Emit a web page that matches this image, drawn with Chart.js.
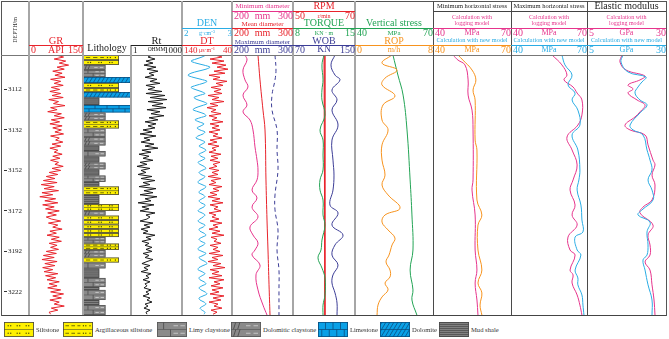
<!DOCTYPE html>
<html>
<head>
<meta charset="utf-8">
<script src="https://cdn.jsdelivr.net/npm/chart.js@4.4.1/dist/chart.umd.min.js"></script>
<style>
  html, body { margin: 0; padding: 0; background: #fff; }
  #page { position: relative; width: 669px; height: 339px; overflow: hidden;
          font-family: "Liberation Serif", "DejaVu Serif", serif; }
  #page canvas { position: absolute; }
  .t, .l, .r { position: absolute; white-space: nowrap; line-height: 1; z-index: 3; }
  .t { transform: translate(-50%, -50%); }
  .l { transform: translateY(-50%); }
  .r { transform: translate(-100%, -50%); }
  .ln { position: absolute; z-index: 2; }
  sup { font-size: 0.75em; line-height: 0; vertical-align: 0.45em; }
</style>
</head>
<body>
<div id="page"></div>
<script>
// ---- depth axis ----
const DEPTH_MIN = 3095;
const DEPTH_MAX = 3223.4;
const depthTicks = [3112, 3132, 3152, 3172, 3192, 3212];
const depthTickLabels = ['3112', '3132', '3152', '3172', '3192', '3222'];

// ---- logs sampled every metre from DEPTH_MIN ----
const grApi = [75,96,70,102,84,110,78,98,66,92,72,100,60,88,70,95,62,85,
  58,88,64,95,55,82,68,100,60,78,52,90,70,98,62,85,58,92,
  66,90,72,96,60,84,74,94,64,88,58,80,70,92,66,86,60,82,72,95,64,88,
  56,80,48,72,40,78,34,70,42,82,36,66,30,74,44,80,38,70,46,84,52,76,48,
  62,88,54,80,66,92,58,76,50,84,62,90,56,78,60,
  82,48,76,40,70,36,78,44,72,38,66,42,80,46,74,50,84,56,78,52,
  88,60,96,66,90,58,84,70,98,62,80,56,60];
const rtOhm = [17.2,10,25.8,7.6,19.7,5.8,29.6,8.7,38.7,11.5,22.5,6.7,33.8,13.1,50.8,7.6,25.8,10,
  66.6,7.6,100,13.1,131,10,76.3,17.2,115,8.7,50.8,15,87.3,11.5,38.7,6.7,29.6,10,
  25.8,5.1,17.2,3.4,29.6,5.8,13.1,3.9,22.5,6.7,38.7,4.4,15,2.95,11.5,5.1,19.7,3.4,8.7,2.25,13.1,3.9,
  7.6,2.6,17.2,3.9,25.8,5.1,13.1,2.95,29.6,5.8,19.7,3.4,33.8,6.7,15,2.6,22.5,4.4,11.5,3.4,25.8,7.6,13.1,
  8.7,3.4,19.7,5.8,13.1,3.9,10,5.1,25.8,7.6,15,4.4,11.5,6.7,17.2,
  7.6,17.2,5.1,11.5,6.7,19.7,8.7,4.4,13.1,5.8,10,3.9,15,7.6,11.5,5.1,13.1,6.7,8.7,5.8,
  15,7.6,11.5,5.1,13.1,8.7,17.2,6.7,10,5.8,13.1,7.6,8.7];
const denGcc = [2.48,2.40,2.28,2.18,2.28,2.44,2.56,2.48,2.32,2.18,2.12,2.22,2.38,2.50,2.42,2.28,2.18,2.26,
  2.38,2.46,2.34,2.24,2.30,2.42,2.50,2.40,2.28,2.22,2.32,2.44,2.48,2.36,2.26,2.34,2.44,2.38,
  2.30,2.36,2.46,2.42,2.32,2.28,2.38,2.46,2.40,2.34,2.42,2.48,2.42,2.34,2.38,2.46,2.40,2.32,2.36,2.44,2.48,2.40,
  2.34,2.38,2.46,2.42,2.34,2.32,2.40,2.48,2.44,2.36,2.34,2.42,2.46,2.40,2.34,2.38,2.46,2.44,2.36,2.32,2.40,2.46,2.42,
  2.36,2.32,2.38,2.46,2.42,2.34,2.36,2.44,2.48,2.40,2.34,2.38,2.46,2.42,2.34,
  2.32,2.40,2.48,2.42,2.34,2.38,2.46,2.50,2.42,2.34,2.32,2.40,2.46,2.40,2.34,2.36,2.44,2.48,2.40,2.34,
  2.38,2.46,2.50,2.42,2.34,2.36,2.44,2.48,2.42,2.36,2.40,2.46,2.44];
const dtUsm = [74,60,84,56,80,52,70,48,76,54,86,64,78,50,72,58,82,62,
  76,60,88,66,80,56,84,68,90,72,82,62,86,70,80,58,84,66,
  80,64,86,68,78,60,84,70,88,66,80,72,86,62,82,68,84,64,78,70,86,66,
  80,68,88,62,82,72,86,60,78,66,84,70,88,64,80,58,84,68,76,62,86,72,80,
  66,84,60,78,68,86,64,80,56,82,70,76,62,84,68,
  78,64,86,58,80,68,88,62,78,54,84,66,80,60,86,56,76,64,82,58,
  80,66,84,56,78,62,86,68,76,60,82,70,78];

// ---- lithology intervals ----
const lithTop  = [3095.0,3097.5,3099.9,3102.4,3105.9,3108.8,3111.3,3113.3,3116.0,3119.7,3123.4,3127.3,3131.3,3135.5,
  3139.7,3142.4,3145.1,3148.1,3151.5,3154.5,3157.7,3159.9,3164.1,3168.6,3172.0,3174.3,3176.5,3178.7,3180.9,3182.9,
  3184.9,3188.1,3191.3,3195.0,3197.5,3200.4,3205.1,3209.6,3211.0,3216.0,3218.5];
const lithBase = [3097.5,3099.9,3102.4,3105.9,3108.8,3111.3,3113.3,3116.0,3119.7,3123.4,3127.3,3131.3,3135.5,3139.7,
  3142.4,3145.1,3148.1,3151.5,3154.5,3157.7,3159.9,3164.1,3168.6,3172.0,3174.3,3176.5,3178.7,3180.9,3182.9,3184.9,
  3188.1,3191.3,3195.0,3197.5,3200.4,3205.1,3209.6,3211.0,3216.0,3218.5,3223.4];
const lithType = ['argSilt','silt','dolClay','limyClay','dolomite','silt','argSilt','dolomite','mud','limestone',
  'dolClay','argSilt','limyClay','dolClay','mud','limyClay','mud','dolClay','mud','limyClay','mud','argSilt','mud',
  'silt','dolClay','silt','silt','silt','silt','silt','limyClay','argSilt','dolClay','argSilt','limyClay','mud',
  'limyClay','mud','limyClay','mud','limyClay'];

// ---- drilling curves ----
const minDiaDepth = [3095.0,3097.5,3102.4,3107.3,3110.8,3114.8,3119.7,3123.1,3127.1,3132.0,3140.4,3146.9,3151.8,3156.7,
  3161.7,3165.6,3170.1,3175.0,3179.9,3183.9,3187.8,3191.3,3193.8,3198.7,3203.6,3211.0,3218.5,3223.4];
const minDiaMm = [221.3,224.6,218.0,221.3,226.2,218.0,224.6,218.0,229.5,234.4,237.7,241.0,242.6,241.0,
  232.8,241.0,232.8,242.6,229.5,234.4,242.6,237.7,232.8,245.9,239.3,242.6,250.8,257.4];
const meanDiaDepth = [3095.0,3107.3,3122.2,3132.0,3156.7,3176.5,3191.3,3208.5,3223.4];
const meanDiaMm = [242.6,245.9,250.8,254.1,255.7,257.4,259.0,260.7,262.3];
const maxDiaDepth = [3095.0,3102.4,3107.3,3114.8,3122.2,3132.0,3141.9,3151.8,3164.1,3171.5,3181.4,3191.3,3201.2,3211.0,3223.4];
const maxDiaMm = [270.5,272.1,270.5,265.6,265.6,273.8,273.8,275.4,270.5,270.5,275.4,273.8,277.0,277.0,277.0];

const rpmDepth = [3095.0, 3223.4];
const rpm = [60.0, 60.3];
const torqueDepth = [3095.0,3099.9,3107.3,3112.3,3117.2,3124.6,3132.0,3137.0,3144.4,3151.8,3156.7,3161.7,3166.6,3174.0,
  3179.0,3186.4,3191.3,3195.2,3200.2,3205.1,3213.5,3218.5,3223.4];
const torque = [11.50,11.27,11.39,11.27,11.27,11.61,11.05,11.39,11.39,11.39,11.05,11.05,11.39,11.39,
  11.61,11.27,11.16,10.82,11.27,11.61,11.61,11.39,11.39];
const wobDepth = [3095.0,3099.9,3104.9,3107.3,3112.3,3117.2,3122.2,3129.6,3137.0,3146.9,3154.3,3161.7,3169.1,3173.0,
  3179.0,3183.9,3188.8,3193.8,3198.7,3203.6,3207.6,3212.5,3217.5,3223.4];
const wob = [124.2,119.0,124.2,130.6,120.3,126.8,120.3,128.1,120.3,121.6,122.9,121.6,117.7,128.1,
  120.3,134.5,124.2,120.3,128.1,121.6,120.3,124.2,126.8,126.8];

const vsDepth = [3095.0,3104.9,3114.8,3132.0,3156.7,3174.0,3191.3,3201.2,3211.0,3216.0,3223.4];
const vsMpa = [54.6,56.5,58.5,60.0,61.2,61.9,62.3,61.2,62.3,61.9,63.8];
const ropDepth = [3095.0,3099.0,3102.4,3106.4,3109.8,3115.2,3119.7,3127.1,3132.0,3139.4,3146.9,3154.3,3159.2,3164.1,
  3170.6,3174.0,3177.5,3181.4,3185.4,3188.8,3193.8,3197.2,3201.2,3204.6,3207.6,3211.0,3214.5,3218.5,3223.4];
const rop = [3.80,2.77,4.31,3.08,2.77,4.10,2.87,2.77,3.39,2.77,2.77,3.08,2.77,3.39,
  4.62,3.08,2.77,3.39,4.10,3.80,3.49,3.18,3.59,3.59,3.08,3.39,2.77,2.36,2.26];

// ---- geomechanics ----
const shLogDepth = [3095.0,3097.5,3099.9,3107.3,3114.8,3122.2,3132.0,3156.7,3161.7,3174.0,3191.3,3201.2,3207.6,3216.0,3223.4];
const shLog = [47.7,49.6,52.3,53.5,53.5,55.0,55.4,55.4,55.0,56.2,56.2,56.9,56.2,56.9,57.3];
const shNewDepth = [3095.0,3097.5,3102.4,3107.3,3112.3,3117.2,3137.0,3141.9,3166.6,3174.0,3179.0,3191.3,3201.2,3207.6,
  3212.5,3218.5,3223.4];
const shNew = [49.6,51.5,55.0,56.5,55.4,56.2,56.2,56.9,56.9,58.8,57.3,57.3,58.8,57.3,58.8,58.1,58.8];

const sHLogDepth = [3095.0,3099.9,3104.9,3107.3,3110.8,3113.8,3117.2,3124.6,3129.6,3135.5,3141.9,3149.3,3156.7,3161.7,
  3169.1,3174.0,3179.0,3184.9,3191.3,3193.8,3201.2,3203.6,3207.6,3213.5,3218.5,3223.4];
const sHLog = [56.2,60.1,62.1,60.9,64.5,66.1,68.0,68.0,66.4,62.1,64.1,66.1,64.5,63.3,
  65.3,64.1,66.1,62.5,63.3,65.3,63.3,64.5,64.1,66.1,67.2,68.0];
const sHNewDepth = [3095.0,3099.9,3104.9,3109.8,3113.8,3117.2,3122.2,3129.6,3134.5,3141.9,3151.8,3156.7,3161.7,3169.1,
  3176.5,3182.4,3184.9,3191.3,3193.8,3201.2,3205.1,3208.5,3213.5,3218.5,3223.4];
const sHNew = [60.1,61.3,64.1,62.5,65.3,64.1,66.4,67.2,64.1,66.4,67.2,66.8,66.1,67.6,
  68.0,68.4,65.3,66.1,67.6,65.3,66.4,66.4,68.0,68.4,68.8];

const eLogDepth = [3095.0,3098.5,3102.4,3105.4,3107.3,3109.8,3111.8,3113.8,3117.2,3119.7,3123.1,3125.6,3129.6,3132.0,
  3134.5,3139.4,3146.9,3149.3,3154.3,3159.2,3166.6,3170.1,3173.0,3179.0,3183.9,3188.8,3193.8,3197.2,3201.2,3208.5,
  3216.0,3223.4];
const eLog = [16.08,15.44,17.34,23.36,21.77,17.98,19.56,17.98,20.83,23.36,21.77,20.19,17.03,18.61,
  23.36,24.31,25.89,26.52,25.57,26.52,25.57,22.72,21.77,25.89,24.31,24.94,24.94,23.36,24.94,25.57,26.21,26.52];
const eNewDepth = [3095.0,3098.5,3103.4,3105.9,3108.3,3110.8,3113.8,3117.2,3119.7,3123.6,3129.6,3132.0,3134.5,3141.9,
  3146.9,3151.8,3156.7,3161.7,3166.6,3171.5,3174.0,3177.5,3182.4,3188.8,3193.8,3196.2,3201.2,3208.5,3216.0,3223.4];
const eNew = [16.39,15.76,17.98,23.67,22.41,21.14,20.19,21.77,23.99,21.77,18.61,19.56,22.72,23.99,
  24.94,25.57,24.31,25.57,25.89,22.41,21.14,24.94,23.99,24.31,23.99,22.72,23.36,24.31,25.57,25.57];

// ---- legend ----
const legendTypes = ['silt','argSilt','limyClay','dolClay','limestone','dolomite','mud'];
const legendNames = ['Siltstone','Argillaceous siltstone','Limy claystone','Dolomitic claystone','Limestone','Dolomite','Mud shale'];

// ---- styles ----
const SERIF = '"Liberation Serif", "DejaVu Serif", serif';
const RED = '#e8232b', MAG = '#e6348c', CYAN = '#2aace4', NAVY = '#3c3d96',
      GREEN = '#23a455', ORANGE = '#f7931e', INK = '#222';
const LITH_STYLE = {
  silt:      { fill: '#fff100', ink: '#4d4d00', row: '#7a7a20', edge: '#444', width: 0.75 },
  argSilt:   { fill: '#fff100', ink: '#4d4d00', row: '#7a7a20', edge: '#444', width: 0.75 },
  limyClay:  { fill: '#8a8a8a', ink: '#d4d4d4', row: '#5e5e5e', edge: '#555', width: 0.47 },
  dolClay:   { fill: '#8a8a8a', ink: '#d4d4d4', row: '#5e5e5e', edge: '#555', width: 0.47 },
  limestone: { fill: '#0aa0e6', ink: '#0b4f80', row: '#0b4f80', edge: '#0b4f80', width: 1 },
  dolomite:  { fill: '#0aa0e6', ink: '#0b4f80', row: '#0b4f80', edge: '#0b4f80', width: 1 },
  mud:       { fill: '#595959', ink: '#8c8c8c', row: '#8c8c8c', edge: '#4a4a4a', width: 0.34 }
};

const PLOT_TOP = 55, PLOT_H = 260;
const page = document.getElementById('page');

function seg(ctx, x1, y1, x2, y2) {
  ctx.beginPath(); ctx.moveTo(x1, y1); ctx.lineTo(x2, y2); ctx.stroke();
}
function dot(ctx, x, y) { ctx.fillRect(x - 0.6, y - 0.6, 1.2, 1.2); }

function paintLith(ctx, type, x, y, w, h, rowCount) {
  const st = LITH_STYLE[type];
  const rows = rowCount || Math.max(1, Math.round(h / 4.2));
  const rh = h / rows;
  ctx.save();
  ctx.beginPath(); ctx.rect(x, y, w, h); ctx.clip();
  ctx.fillStyle = st.fill; ctx.fillRect(x, y, w, h);
  ctx.lineWidth = 0.8;
  if (type === 'mud') {
    ctx.strokeStyle = st.ink;
    for (let yy = y + 1.5; yy < y + h; yy += 2) seg(ctx, x, yy, x + w, yy);
  } else if (type === 'dolomite') {
    ctx.strokeStyle = st.ink;
    for (let r = 1; r < rows; r++) seg(ctx, x, y + r * rh, x + w, y + r * rh);
    for (let xx = x - h; xx < x + w + h; xx += 4) seg(ctx, xx, y + h, xx + h * 0.6, y);
  } else {
    for (let r = 0; r < rows; r++) {
      const t = y + r * rh, m = t + rh / 2, odd = r % 2;
      ctx.strokeStyle = st.row;
      if (r > 0) seg(ctx, x, t, x + w, t);
      ctx.strokeStyle = st.ink; ctx.fillStyle = st.ink;
      if (type === 'limestone') {
        for (let k = 0; k < 5; k++) {
          const xx = x + (k + (odd ? 0.5 : 0)) * w / 4;
          seg(ctx, xx, t, xx, t + rh);
        }
      } else if (type === 'silt') {
        for (let k = 0; k < 3; k++) {
          const xx = x + w * (0.14 + k * 0.3);
          dot(ctx, xx, m); dot(ctx, xx + 2.5, m);
        }
      } else if (type === 'argSilt') {
        seg(ctx, x + w * 0.08, m, x + w * 0.2, m);
        seg(ctx, x + w * 0.28, m, x + w * 0.4, m);
        seg(ctx, x + w * 0.48, m, x + w * 0.58, m);
        dot(ctx, x + w * 0.68, m); dot(ctx, x + w * 0.76, m); dot(ctx, x + w * 0.9, m);
      } else if (type === 'limyClay') {
        ctx.strokeStyle = '#4a4a4a';
        const xx = x + w * (odd ? 0.45 : 0.22);
        seg(ctx, xx, t, xx, t + rh);
        ctx.strokeStyle = st.ink;
        seg(ctx, x + w * 0.55, m, x + w * 0.7, m);
        seg(ctx, x + w * 0.78, m, x + w * 0.93, m);
      } else if (type === 'dolClay') {
        ctx.strokeStyle = '#444';
        seg(ctx, x + w * 0.08, t + rh, x + w * 0.16, t);
        seg(ctx, x + w * 0.22, t + rh, x + w * 0.30, t);
        ctx.strokeStyle = st.ink;
        seg(ctx, x + w * 0.5, m, x + w * 0.65, m);
        seg(ctx, x + w * 0.75, m, x + w * 0.9, m);
      }
    }
  }
  ctx.restore();
  ctx.strokeStyle = st.edge; ctx.lineWidth = 0.8;
  ctx.strokeRect(x + 0.4, y + 0.4, w - 0.8, h - 0.8);
}

const lithologyPlugin = {
  id: 'lithology',
  afterDatasetsDraw(chart) {
    const { ctx, scales: { x, y } } = chart;
    lithTop.forEach((top, i) => {
      const type = lithType[i];
      const x0 = x.getPixelForValue(0);
      const x1 = x.getPixelForValue(LITH_STYLE[type].width);
      const y0 = y.getPixelForValue(top);
      const y1 = y.getPixelForValue(lithBase[i]);
      paintLith(ctx, type, x0, y0, x1 - x0, y1 - y0);
    });
  }
};

function addCanvas(left, top, w, h) {
  const cv = document.createElement('canvas');
  cv.width = w; cv.height = h;
  cv.style.left = left + 'px'; cv.style.top = top + 'px';
  page.appendChild(cv);
  return cv;
}

function depthScale(extra) {
  return Object.assign({ type: 'linear', reverse: true, min: DEPTH_MIN, max: DEPTH_MAX, display: false }, extra);
}
function xs(min, max, extra) {
  return Object.assign({ type: 'linear', axis: 'x', position: 'bottom', min, max, display: false }, extra);
}
function curve(depths, values, axis, color, extra) {
  return Object.assign({
    data: values.map((v, i) => ({ x: v, y: depths[i] })),
    xAxisID: axis, yAxisID: 'y',
    borderColor: color, backgroundColor: color, borderWidth: 1,
    showLine: true, pointRadius: 0, tension: 0, fill: false
  }, extra);
}
const logDepth = grApi.map((_, i) => DEPTH_MIN + i);

function track(left, right, scales, datasets, plugins) {
  const cv = addCanvas(left, PLOT_TOP, right - left, PLOT_H);
  return new Chart(cv, {
    type: 'scatter',
    data: { datasets },
    options: {
      responsive: false, animation: false, events: [],
      layout: { padding: 0 },
      plugins: { legend: { display: false }, tooltip: { enabled: false } },
      scales: Object.assign({ y: depthScale() }, scales)
    },
    plugins: plugins || []
  });
}

// depth column
new Chart(addCanvas(2, PLOT_TOP, 27, PLOT_H), {
  type: 'scatter',
  data: { datasets: [] },
  options: {
    responsive: false, animation: false, events: [],
    layout: { padding: 0 },
    plugins: { legend: { display: false }, tooltip: { enabled: false } },
    scales: {
      x: { display: false },
      y: depthScale({
        display: true, position: 'right',
        afterFit(s) { s.width = 25; s.paddingTop = 0; s.paddingBottom = 0; },
        afterBuildTicks(s) { s.ticks = depthTicks.map(v => ({ value: v })); },
        ticks: { autoSkip: false, padding: 1, color: '#222', font: { family: SERIF, size: 7 },
                 callback: (v, i) => depthTickLabels[i] },
        grid: { drawOnChartArea: false, drawTicks: true, tickLength: 3, color: '#333', lineWidth: 1 },
        border: { display: false }
      })
    }
  }
});

const oneM = { tension: 0 };
const smooth = { tension: 0.4 };

track(29, 83, { x: xs(0, 150) }, [curve(logDepth, grApi, 'x', RED, oneM)]);
track(83, 131, { x: xs(0, 1) }, [], [lithologyPlugin]);
track(131, 182, { x: xs(1, 1000, { type: 'logarithmic' }) }, [curve(logDepth, rtOhm, 'x', '#1a1a1a', oneM)]);
track(182, 232, { xDen: xs(2, 3), xDt: xs(40, 140, { reverse: true }) }, [
  curve(logDepth, denGcc, 'xDen', CYAN, { tension: 0.3 }),
  curve(logDepth, dtUsm, 'xDt', RED, oneM)
]);
track(232, 293, { x: xs(200, 300) }, [
  curve(minDiaDepth, minDiaMm, 'x', MAG, smooth),
  curve(meanDiaDepth, meanDiaMm, 'x', RED, smooth),
  curve(maxDiaDepth, maxDiaMm, 'x', NAVY, Object.assign({ borderDash: [4, 3] }, smooth))
]);
track(293, 355, { xRpm: xs(50, 70), xTq: xs(8, 15), xWob: xs(70, 150) }, [
  curve(torqueDepth, torque, 'xTq', GREEN, smooth),
  curve(rpmDepth, rpm, 'xRpm', RED, oneM),
  curve(wobDepth, wob, 'xWob', NAVY, smooth)
]);
track(355, 433, { xVs: xs(40, 70), xRop: xs(0, 8) }, [
  curve(ropDepth, rop, 'xRop', ORANGE, smooth),
  curve(vsDepth, vsMpa, 'xVs', GREEN, smooth)
]);
track(433, 511, { x: xs(40, 70) }, [
  curve(shNewDepth, shNew, 'x', ORANGE, smooth),
  curve(shLogDepth, shLog, 'x', MAG, smooth)
]);
track(511, 587, { x: xs(40, 70) }, [
  curve(sHNewDepth, sHNew, 'x', CYAN, smooth),
  curve(sHLogDepth, sHLog, 'x', MAG, smooth)
]);
track(587, 666, { x: xs(5, 30) }, [
  curve(eNewDepth, eNew, 'x', CYAN, smooth),
  curve(eLogDepth, eLog, 'x', MAG, smooth)
]);

// ---- frame, separators, header ----
function box(left, top, w, h, color) {
  const d = document.createElement('div');
  d.className = 'ln';
  Object.assign(d.style, { left: left + 'px', top: top + 'px', width: w + 'px', height: h + 'px', background: color });
  page.appendChild(d);
}
const hline = (x1, x2, y, c) => box(x1, y, x2 - x1, 1, c);
const vline = (x, y1, y2, c, w) => box(x - (w > 1 ? 1 : 0), y1, w, y2 - y1, c);

function txt(cls, html, x, y, size, color, extra) {
  const d = document.createElement('div');
  d.className = cls; d.innerHTML = html;
  Object.assign(d.style, { left: x + 'px', top: y + 'px', fontSize: size + 'px', color }, extra || {});
  page.appendChild(d);
  return d;
}
function scaleRow(L, R, y, lo, unit, hi, c, numSize, unitSize) {
  txt('l', lo, L + 2, y, numSize, c);
  txt('t', unit, (L + R) / 2, y, unitSize, c);
  txt('r', hi, R, y, numSize, c);
}

// outer frame
hline(1, 666, 1, '#555'); hline(1, 666, 315, '#444');
vline(1, 1, 316, '#555', 1); vline(666, 1, 316, '#555', 1);
hline(1, 666, 55, '#777');
[29, 83, 182, 232, 293, 355].forEach(x => vline(x, 1, 315, '#a6a6a6', 2));
vline(131, 45, 315, '#a6a6a6', 2);
[433, 511, 587].forEach(x => vline(x, 1, 315, '#4a4a4a', 1));
hline(433, 666, 11, '#444');

txt('t', 'DEPTH/m', 15, 30, 6, '#333', { transform: 'translate(-50%, -50%) rotate(-90deg)' });

txt('t', 'GR', 56, 40.5, 10.5, RED); hline(29, 83, 45, RED);
scaleRow(29, 83, 50, '0', 'API', '150', RED, 10, 10);

txt('t', 'Lithology', 107, 47.5, 10, INK);

txt('t', 'Rt', 156.5, 40.5, 10.5, INK); hline(131, 182, 45, INK);
scaleRow(131, 182, 50, '1', 'OHMM', '1000', INK, 9, 5.5);

txt('t', 'DEN', 207, 22.5, 10, CYAN); hline(182, 232, 28, CYAN);
scaleRow(182, 232, 33, '2', 'g·cm<sup>-3</sup>', '3', CYAN, 9, 6);
txt('t', 'DT', 207, 40.5, 10, RED); hline(182, 232, 45, RED);
scaleRow(182, 232, 50, '140', 'μs·m<sup>-1</sup>', '40', RED, 9, 6);

txt('t', 'Minimum diameter', 262.5, 6, 7, MAG); hline(232, 293, 11, MAG);
scaleRow(232, 293, 15.5, '200', 'mm', '300', MAG, 10, 10);
txt('t', 'Mean diameter', 262.5, 23.5, 7, RED); hline(232, 293, 28, RED);
scaleRow(232, 293, 33, '200', 'mm', '300', RED, 10, 10);
txt('t', 'Maximum diameter', 262.5, 41.5, 7, NAVY); hline(232, 293, 45, NAVY);
scaleRow(232, 293, 50, '200', 'mm', '300', NAVY, 10, 10);

txt('t', 'RPM', 324, 6, 10, RED); hline(293, 355, 11, RED);
scaleRow(293, 355, 15.5, '50', 'r/min', '70', RED, 10, 6);
txt('t', 'TORQUE', 324, 23, 10, GREEN); hline(293, 355, 28, GREEN);
scaleRow(293, 355, 33, '8', 'KN · m', '15', GREEN, 10, 6);
txt('t', 'WOB', 324, 40.5, 10, NAVY); hline(293, 355, 45, NAVY);
scaleRow(293, 355, 50, '70', 'KN', '150', NAVY, 10, 9.5);

txt('t', 'Vertical stress', 394, 23, 10, GREEN); hline(355, 433, 28, GREEN);
scaleRow(355, 433, 33, '40', 'MPa', '70', GREEN, 10, 7);
txt('t', 'ROP', 394, 40.5, 10, ORANGE); hline(355, 433, 45, ORANGE);
scaleRow(355, 433, 50, '0', 'm/h', '8', ORANGE, 10, 8);

const rightTracks = [
  { L: 433, R: 511, title: 'Minimum horizontal stress', size: 6.5, lo: '40', unit: 'MPa', hi: '70', second: ORANGE },
  { L: 511, R: 587, title: 'Maximum horizontal stress', size: 6.5, lo: '40', unit: 'MPa', hi: '70', second: CYAN },
  { L: 587, R: 666, title: 'Elastic modulus', size: 10, lo: '5', unit: 'GPa', hi: '30', second: CYAN }
];
rightTracks.forEach(t => {
  const cx = (t.L + t.R) / 2;
  txt('t', t.title, cx, 6, t.size, INK);
  txt('t', 'Calculation with', cx, 17, 6, MAG);
  txt('t', 'logging model', cx, 23, 6, MAG);
  hline(t.L, t.R, 28, MAG);
  scaleRow(t.L, t.R, 33, t.lo, t.unit, t.hi, MAG, 10, 8);
  txt('t', 'Calculation with new model', cx, 40, 6.3, CYAN);
  hline(t.L, t.R, 45, t.second);
  scaleRow(t.L, t.R, 50, t.lo, t.unit, t.hi, t.second, 10, 8);
});

// ---- lithology key ----
const legendX = [4, 63, 157, 231, 318, 380, 439];
legendTypes.forEach((type, i) => {
  const cv = addCanvas(legendX[i], 322, 30, 15);
  paintLith(cv.getContext('2d'), type, 0, 0, 30, 15, 2);
  txt('l', legendNames[i], legendX[i] + 32, 330, 6.6, '#333');
});
</script>
</body>
</html>
